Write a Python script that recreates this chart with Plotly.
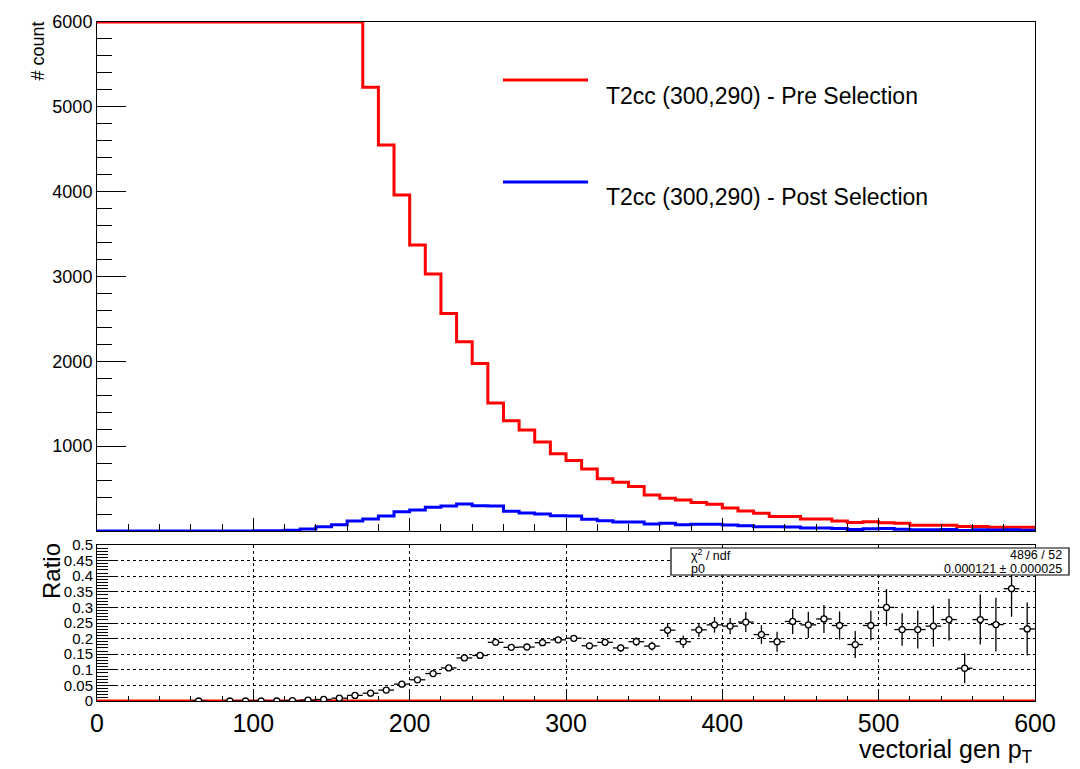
import plotly.graph_objects as go

# ---------------- data ----------------
bin_edges = list(range(0, 610, 10))  # 0..600, 60 bins of width 10

# Pre selection (red); bins below 170 run off the top of the axis (shown clipped at 6000)
pre_counts = [6000] * 17 + [
    5230, 4550, 3960, 3370, 3030, 2565, 2230, 1975, 1510, 1300,
    1190, 1050, 910, 830, 730, 615, 575, 525, 425, 385,
    365, 335, 315, 270, 235, 210, 170, 170, 140, 140,
    118, 100, 110, 98, 90, 68, 68, 68, 52, 52,
    44, 44, 44]

# Post selection (blue)
post_counts = [
    0, 0, 0, 0, 0, 0, 1, 0, 1, 1,
    2, 3, 8, 25, 50, 75, 118, 140, 178, 228,
    248, 279, 295, 318, 298, 295, 232, 212, 200, 181,
    177, 138, 122, 106, 106, 83, 90, 75, 79, 79,
    71, 63, 51, 51, 47, 36, 36, 30, 18, 27,
    29, 21, 16, 16, 18, 6, 14, 11, 16, 10]

# Ratio panel points
ratio_x = [65, 85, 95, 105, 115, 125, 135, 145, 155, 165, 175, 185, 195, 205, 215,
           225, 235, 245, 255, 265, 275, 285, 295, 305, 315, 325, 335, 345, 355,
           365, 375, 385, 395, 405, 415, 425, 435, 445, 455, 465, 475, 485, 495,
           505, 515, 525, 535, 545, 555, 565, 575, 585, 595]
ratio_y = [0, 0, 0, 0, 0, 0.001, 0.003, 0.005, 0.009, 0.018, 0.025, 0.035, 0.054,
           0.068, 0.088, 0.106, 0.138, 0.146, 0.188, 0.172, 0.173, 0.187, 0.196,
           0.201, 0.177, 0.188, 0.170, 0.190, 0.176, 0.227, 0.190, 0.228, 0.244,
           0.240, 0.253, 0.213, 0.190, 0.255, 0.244, 0.263, 0.242, 0.181, 0.242,
           0.300, 0.229, 0.229, 0.240, 0.261, 0.105, 0.261, 0.245, 0.360, 0.231]
ratio_err = [0, 0, 0, 0, 0, 0.0005, 0.001, 0.001, 0.0015, 0.002, 0.002, 0.003, 0.003,
             0.003, 0.004, 0.004, 0.005, 0.005, 0.006, 0.006, 0.007, 0.009, 0.010,
             0.010, 0.011, 0.012, 0.012, 0.014, 0.014, 0.022, 0.020, 0.023, 0.025,
             0.026, 0.032, 0.030, 0.032, 0.040, 0.042, 0.045, 0.045, 0.043, 0.047,
             0.059, 0.052, 0.061, 0.066, 0.067, 0.048, 0.080, 0.086, 0.090, 0.085]
bin_half_width = 5

# constant fit
fit_p0 = 0.000121
fit_p0_err = 0.000025
fit_chi2 = 4896
fit_ndf = 52

legend_labels = ["T2cc (300,290) - Pre Selection", "T2cc (300,290) - Post Selection"]

FONT = "Liberation Sans, Arial, Helvetica, sans-serif"

# ---------------- figure ----------------
fig = go.Figure()

fig.add_trace(go.Scatter(
    x=bin_edges, y=pre_counts + [pre_counts[-1]], mode="lines", line_shape="hv",
    line=dict(color="#ff0000", width=3), xaxis="x", yaxis="y", showlegend=False))
fig.add_trace(go.Scatter(
    x=bin_edges, y=post_counts + [post_counts[-1]], mode="lines", line_shape="hv",
    line=dict(color="#0000ff", width=3), xaxis="x", yaxis="y", showlegend=False))

# fit line in ratio panel
fig.add_trace(go.Scatter(
    x=[bin_edges[0], bin_edges[-1]], y=[fit_p0, fit_p0], mode="lines",
    line=dict(color="#ff0000", width=3), xaxis="x2", yaxis="y2", showlegend=False))

fig.add_trace(go.Scatter(
    x=ratio_x, y=ratio_y, mode="markers",
    marker=dict(symbol="circle", size=6, color="white", line=dict(width=1.3, color="black")),
    error_y=dict(type="data", array=ratio_err, width=0, thickness=1.3, color="black"),
    error_x=dict(type="constant", value=bin_half_width, width=0, thickness=1.3, color="black"),
    xaxis="x2", yaxis="y2", showlegend=False))

# Screen geometry (page body has an 8px margin)
OFF = 8
W, H = 1080, 769
PL, PR, PT, PB = 97, 1035, 22, 701  # plot area in screen pixels
plot_w = PR - PL
plot_h = PB - PT


def py(pix):
    return (PB - pix) / plot_h


def px(pix):
    return (pix - PL) / plot_w


top_dom = [py(531), 1.0]
bot_dom = [0.0, py(545)]

axis_common = dict(showline=True, linecolor="black", linewidth=1, mirror=True,
                   ticks="inside", tickcolor="black", zeroline=False, automargin=False,
                   tickfont=dict(family=FONT, color="black"))

fig.update_layout(
    width=W, height=H,
    margin=dict(l=PL - OFF, r=W + OFF - PR, t=PT - OFF, b=H + OFF - PB, autoexpand=False),
    paper_bgcolor="white", plot_bgcolor="white",
    font=dict(family=FONT, color="black"),
    xaxis=dict(axis_common, domain=[0, 1], anchor="y", range=[0, 600],
               showticklabels=False, tickvals=[100, 200, 300, 400, 500], ticklen=13,
               minor=dict(dtick=20, tick0=0, ticklen=7, ticks="inside", tickcolor="black"),
               showgrid=False),
    yaxis=dict(axis_common, domain=top_dom, anchor="x", range=[0, 6000],
               tickvals=[1000, 2000, 3000, 4000, 5000, 6000], ticklen=29,
               tickfont=dict(family=FONT, size=18, color="black"),
               minor=dict(dtick=200, tick0=0, ticklen=15, ticks="inside", tickcolor="black"),
               showgrid=False),
    xaxis2=dict(axis_common, domain=[0, 1], anchor="y2", range=[0, 600],
                tickvals=[0, 100, 200, 300, 400, 500, 600],
                ticktext=["0", "100", "200", "300", "400", "500", "600"],
                ticklen=10, tickfont=dict(family=FONT, size=25, color="black"),
                minor=dict(dtick=20, tick0=0, ticklen=5, ticks="inside", tickcolor="black",
                           showgrid=False),
                showgrid=True, gridcolor="black", griddash="dot", gridwidth=1),
    yaxis2=dict(axis_common, domain=bot_dom, anchor="x2", range=[0, 0.5],
                tickvals=[0, 0.05, 0.1, 0.15, 0.2, 0.25, 0.3, 0.35, 0.4, 0.45, 0.5],
                ticktext=["0", "0.05", "0.1", "0.15", "0.2", "0.25", "0.3", "0.35",
                          "0.4", "0.45", "0.5"],
                ticklen=20, tickfont=dict(family=FONT, size=15, color="black"),
                minor=dict(dtick=0.01, tick0=0, ticklen=11, ticks="inside",
                           tickcolor="black", showgrid=False),
                showgrid=True, gridcolor="black", griddash="dot", gridwidth=1),
)

# legend (custom, ROOT style)
fig.add_shape(type="line", xref="paper", yref="paper", x0=px(503), x1=px(588),
              y0=py(80), y1=py(80), line=dict(color="#ff0000", width=3))
fig.add_shape(type="line", xref="paper", yref="paper", x0=px(503), x1=px(588),
              y0=py(182), y1=py(182), line=dict(color="#0000ff", width=3))
fig.add_annotation(xref="paper", yref="paper", x=px(604), y=py(96), text=legend_labels[0],
                   showarrow=False, xanchor="left", yanchor="middle",
                   font=dict(family=FONT, size=23, color="black"))
fig.add_annotation(xref="paper", yref="paper", x=px(604), y=py(197), text=legend_labels[1],
                   showarrow=False, xanchor="left", yanchor="middle",
                   font=dict(family=FONT, size=23, color="black"))

# axis titles
fig.add_annotation(xref="paper", yref="paper", x=px(37), y=py(20), text="# count",
                   textangle=-90, showarrow=False, xanchor="center", yanchor="top",
                   font=dict(family=FONT, size=18, color="black"))
fig.add_annotation(xref="paper", yref="paper", x=px(51), y=py(541), text="Ratio",
                   textangle=-90, showarrow=False, xanchor="center", yanchor="top",
                   font=dict(family=FONT, size=24, color="black"))
fig.add_annotation(xref="paper", yref="paper", x=1.0, y=py(733),
                   text="vectorial gen p<sub>T</sub>",
                   showarrow=False, xanchor="right", yanchor="top",
                   font=dict(family=FONT, size=25, color="black"))

# stats box
fig.add_shape(type="rect", xref="paper", yref="paper", x0=px(671), x1=px(1069),
              y0=py(575), y1=py(548), line=dict(color="black", width=1.2),
              fillcolor="white", layer="above")
stat_font = dict(family=FONT, size=12.5, color="#000000")
fig.add_annotation(xref="paper", yref="paper", x=px(689), y=py(554.5),
                   text="\u03c7<sup>2</sup> / ndf", showarrow=False, xanchor="left",
                   yanchor="middle", font=stat_font)
fig.add_annotation(xref="paper", yref="paper", x=px(689), y=py(569), text="p0",
                   showarrow=False, xanchor="left", yanchor="middle", font=stat_font)
fig.add_annotation(xref="paper", yref="paper", x=px(1064), y=py(555),
                   text=f"{fit_chi2} / {fit_ndf}", showarrow=False, xanchor="right",
                   yanchor="middle", font=stat_font)
fig.add_annotation(xref="paper", yref="paper", x=px(1064), y=py(569),
                   text=f"{fit_p0:.6f} \u00b1 {fit_p0_err:.6f}", showarrow=False,
                   xanchor="right", yanchor="middle", font=stat_font)

fig.write_html("out.html")
